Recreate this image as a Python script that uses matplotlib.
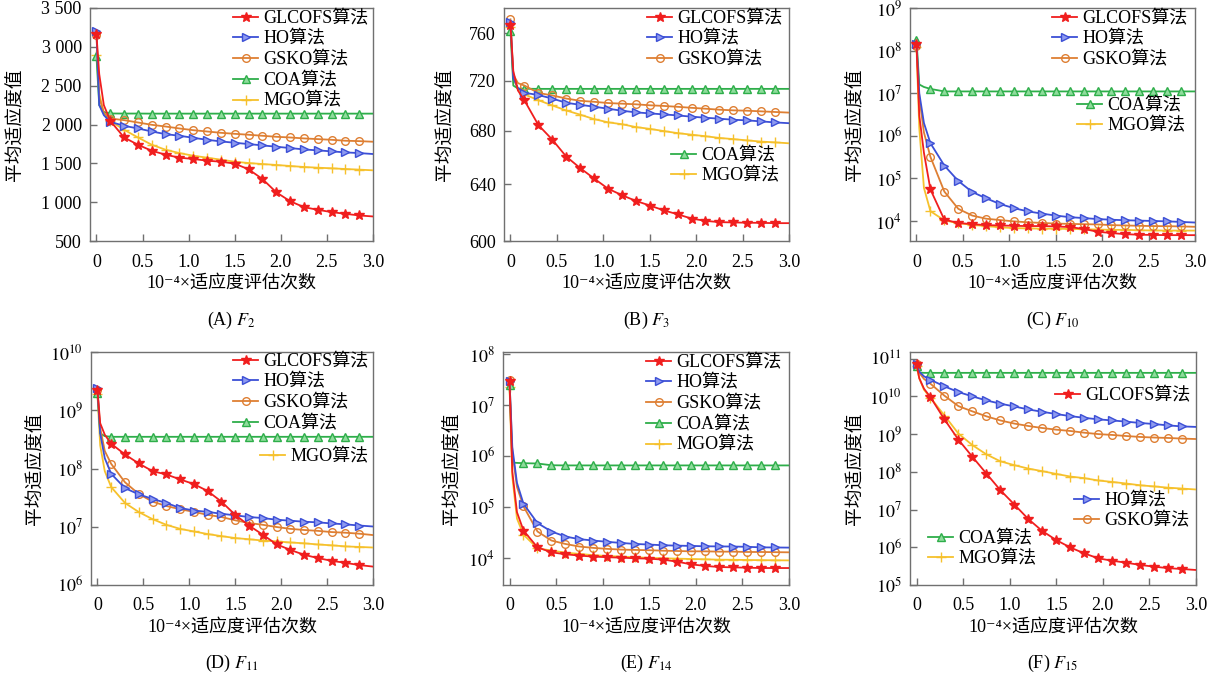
import numpy as np
import matplotlib
matplotlib.use('Agg')
import matplotlib.pyplot as plt
from matplotlib.ticker import FixedLocator, FuncFormatter, NullLocator
from matplotlib.legend import Legend

plt.rcParams['font.family'] = ['Liberation Serif', 'DejaVu Serif', 'Noto Sans CJK SC']
plt.rcParams['mathtext.fontset'] = 'stix'
plt.rcParams['font.size'] = 13

# ---------------- data ----------------
x_evals = [0, 0.03, 0.08, 0.15, 0.3, 0.45, 0.6, 0.75, 0.9, 1.05, 1.2, 1.35, 1.5,
           1.65, 1.8, 1.95, 2.1, 2.25, 2.4, 2.55, 2.7, 2.85, 3.0]
x_ticks = [0, 0.5, 1.0, 1.5, 2.0, 2.5, 3.0]
x_tick_labels = ['0', '0.5', '1.0', '1.5', '2.0', '2.5', '3.0']
algorithms = ['GLCOFS算法', 'HO算法', 'GSKO算法', 'COA算法', 'MGO算法']

# (A) F2
f2_glcofs = [3160, 2650, 2250, 2047, 1833, 1739, 1662, 1611, 1573, 1556, 1534, 1521, 1496,
             1423, 1299, 1128, 1013, 936, 902, 872, 850, 829, 816]
f2_ho = [3200, 2250, 2120, 2034, 1983, 1949, 1910, 1876, 1855, 1829, 1803, 1782, 1765,
         1748, 1731, 1714, 1697, 1679, 1667, 1654, 1641, 1632, 1620]
f2_gsko = [3150, 2350, 2150, 2077, 2056, 2026, 1996, 1974, 1949, 1927, 1910, 1893, 1880,
           1868, 1855, 1842, 1833, 1821, 1812, 1803, 1791, 1786, 1778]
f2_coa = [2880, 2250, 2160, 2142, 2141, 2141, 2140, 2140, 2140, 2140, 2140, 2140, 2140,
          2140, 2140, 2140, 2140, 2140, 2140, 2140, 2140, 2140, 2140]
f2_mgo = [2900, 2400, 2150, 2047, 1932, 1833, 1739, 1675, 1632, 1598, 1573, 1547, 1521,
          1504, 1491, 1479, 1466, 1453, 1444, 1436, 1427, 1419, 1410]

# (B) F3
f3_glcofs = [767, 728, 712, 704, 684.6, 673.3, 660.5, 651.9, 644.2, 636.8, 632.1, 628.0, 624.7,
             621.3, 618.5, 615.5, 613.9, 613.0, 612.8, 612.6, 612.5, 612.3, 612.3]
f3_ho = [770, 722, 714, 710.2, 708.3, 705.5, 702.1, 700.5, 699.0, 697.4, 695.8, 694.5, 693.7,
         692.9, 692.1, 691.1, 690.3, 689.5, 688.7, 688.2, 687.4, 686.6, 686.0]
f3_gsko = [772, 725, 718, 716, 710, 708, 705.5, 703.7, 702.9, 701.9, 701.4, 700.9, 700.1,
           699.6, 698.9, 698.1, 697.4, 696.6, 696.1, 695.8, 695.3, 694.8, 694.3]
f3_coa = [762, 716, 713.6, 713.4, 713.3, 713.3, 713.3, 713.3, 713.3, 713.3, 713.3, 713.3, 713.3,
          713.3, 713.3, 713.3, 713.3, 713.3, 713.3, 713.3, 713.3, 713.3, 713.3]
f3_mgo = [765, 722, 713, 708.8, 704.2, 700.0, 696.0, 692.7, 689.2, 686.7, 685.2, 683.0, 681.6,
          679.9, 678.3, 677.1, 675.9, 674.6, 673.7, 672.7, 671.8, 671.2, 670.5]

# (C) F10
f10_glcofs = [1.4e8, 3e6, 4e5, 5.5e4, 1.07e4, 9.0e3, 8.4e3, 8.0e3, 7.85e3, 7.7e3, 7.6e3, 7.6e3, 7.45e3,
              7.2e3, 6.5e3, 5.6e3, 5.2e3, 4.9e3, 4.75e3, 4.7e3, 4.65e3, 4.65e3, 4.65e3]
f10_ho = [1.4e8, 1e7, 2e6, 6.7e5, 2.0e5, 8.7e4, 4.8e4, 3.4e4, 2.5e4, 2.0e4, 1.68e4, 1.49e4, 1.34e4,
          1.23e4, 1.17e4, 1.11e4, 1.07e4, 1.04e4, 1.02e4, 1.0e4, 9.8e3, 9.5e3, 9.2e3]
f10_gsko = [1.3e8, 8e6, 1.2e6, 3.2e5, 4.9e4, 1.93e4, 1.34e4, 1.13e4, 1.05e4, 9.8e3, 9.3e3, 9.0e3, 8.7e3,
            8.55e3, 8.4e3, 8.3e3, 8.0e3, 7.85e3, 7.7e3, 7.6e3, 7.55e3, 7.45e3, 7.3e3]
f10_coa = [1.8e8, 1.6e7, 1.4e7, 1.26e7, 1.1e7, 1.1e7, 1.1e7, 1.1e7, 1.1e7, 1.1e7, 1.1e7, 1.1e7, 1.1e7,
           1.1e7, 1.1e7, 1.1e7, 1.1e7, 1.1e7, 1.1e7, 1.1e7, 1.1e7, 1.1e7, 1.1e7]
f10_mgo = [1.2e8, 1.5e6, 6e4, 1.7e4, 1.03e4, 8.9e3, 8.1e3, 7.6e3, 7.1e3, 6.8e3, 6.7e3, 6.6e3, 6.6e3,
           6.5e3, 6.4e3, 6.3e3, 6.2e3, 6.2e3, 6.05e3, 6.0e3, 5.95e3, 5.95e3, 5.95e3]

# (D) F11
f11_glcofs = [2.2e9, 6e8, 3.8e8, 2.66e8, 1.74e8, 1.22e8, 9.0e7, 7.9e7, 6.5e7, 5.4e7, 4.1e7, 2.7e7, 1.6e7,
              1.05e7, 7.3e6, 5.0e6, 4.0e6, 3.3e6, 2.9e6, 2.6e6, 2.4e6, 2.2e6, 2.07e6]
f11_ho = [2.4e9, 4e8, 1.5e8, 8.1e7, 4.6e7, 3.6e7, 3.0e7, 2.56e7, 2.1e7, 1.9e7, 1.8e7, 1.67e7, 1.57e7,
          1.47e7, 1.41e7, 1.32e7, 1.27e7, 1.22e7, 1.19e7, 1.14e7, 1.1e7, 1.05e7, 1.01e7]
f11_gsko = [2.2e9, 5e8, 2e8, 1.2e8, 5.8e7, 3.65e7, 2.7e7, 2.27e7, 2.0e7, 1.8e7, 1.6e7, 1.47e7, 1.29e7,
            1.16e7, 1.08e7, 9.9e6, 9.2e6, 8.8e6, 8.5e6, 8.1e6, 7.9e6, 7.6e6, 7.2e6]
f11_coa = [2.0e9, 4e8, 3.6e8, 3.5e8, 3.5e8, 3.5e8, 3.5e8, 3.5e8, 3.5e8, 3.5e8, 3.5e8, 3.5e8, 3.5e8,
           3.5e8, 3.5e8, 3.5e8, 3.5e8, 3.5e8, 3.5e8, 3.5e8, 3.5e8, 3.5e8, 3.5e8]
f11_mgo = [1.9e9, 2.5e8, 9e7, 4.8e7, 2.56e7, 1.79e7, 1.35e7, 1.08e7, 9.2e6, 8.3e6, 7.5e6, 6.9e6, 6.4e6,
           6.1e6, 5.8e6, 5.6e6, 5.37e6, 5.2e6, 4.96e6, 4.8e6, 4.6e6, 4.5e6, 4.4e6]

# (E) F14
f14_glcofs = [3e7, 5e5, 8e4, 3.5e4, 1.64e4, 1.31e4, 1.2e4, 1.13e4, 1.08e4, 1.05e4, 1.03e4, 1.0e4, 9.85e3,
              9.4e3, 8.6e3, 7.6e3, 7.1e3, 6.75e3, 6.65e3, 6.55e3, 6.45e3, 6.45e3, 6.45e3]
f14_ho = [3e7, 1.5e6, 3e5, 1.17e5, 4.9e4, 3.35e4, 2.67e4, 2.37e4, 2.23e4, 2.1e4, 2.0e4, 1.91e4, 1.86e4,
          1.8e4, 1.77e4, 1.75e4, 1.72e4, 1.71e4, 1.7e4, 1.68e4, 1.64e4, 1.63e4, 1.62e4]
f14_gsko = [3.1e7, 1.2e6, 2.5e5, 1.04e5, 3.35e4, 2.23e4, 1.91e4, 1.7e4, 1.6e4, 1.53e4, 1.48e4, 1.46e4, 1.44e4,
            1.41e4, 1.39e4, 1.37e4, 1.37e4, 1.35e4, 1.35e4, 1.33e4, 1.33e4, 1.32e4, 1.31e4]
f14_coa = [2.5e7, 7.5e5, 7.4e5, 7.3e5, 7.2e5, 6.65e5, 6.6e5, 6.6e5, 6.6e5, 6.6e5, 6.6e5, 6.6e5, 6.6e5,
           6.6e5, 6.6e5, 6.6e5, 6.6e5, 6.6e5, 6.6e5, 6.6e5, 6.6e5, 6.6e5, 6.6e5]
f14_mgo = [2.3e7, 4e5, 6e4, 2.9e4, 1.57e4, 1.42e4, 1.29e4, 1.22e4, 1.15e4, 1.11e4, 1.08e4, 1.05e4, 1.02e4,
           1.0e4, 9.85e3, 9.7e3, 9.56e3, 9.4e3, 9.35e3, 9.27e3, 9.2e3, 9.15e3, 9.1e3]

# (F) F15
f15_glcofs = [7e10, 3e10, 1.6e10, 9.5e9, 2.45e9, 7.1e8, 2.5e8, 9.0e7, 3.26e7, 1.36e7, 5.6e6, 2.7e6, 1.55e6,
              9.9e5, 6.9e5, 5.1e5, 4.4e5, 3.9e5, 3.4e5, 3.06e5, 2.8e5, 2.65e5, 2.5e5]
f15_ho = [7e10, 4.5e10, 3.4e10, 2.75e10, 1.84e10, 1.3e10, 1.0e10, 7.8e9, 6.4e9, 5.4e9, 4.5e9, 3.9e9, 3.4e9,
          3.0e9, 2.7e9, 2.46e9, 2.3e9, 2.14e9, 1.97e9, 1.85e9, 1.7e9, 1.6e9, 1.55e9]
f15_gsko = [7e10, 4.2e10, 2.9e10, 2.16e10, 1.04e10, 5.5e9, 4.0e9, 2.96e9, 2.3e9, 1.9e9, 1.64e9, 1.45e9, 1.31e9,
            1.21e9, 1.09e9, 1.0e9, 9.5e8, 8.9e8, 8.4e8, 8.1e8, 7.9e8, 7.6e8, 7.4e8]
f15_coa = [6.5e10, 4.3e10, 4.2e10, 4.2e10, 4.2e10, 4.2e10, 4.2e10, 4.2e10, 4.2e10, 4.2e10, 4.2e10, 4.2e10, 4.2e10,
           4.2e10, 4.2e10, 4.2e10, 4.2e10, 4.2e10, 4.2e10, 4.2e10, 4.2e10, 4.2e10, 4.2e10]
f15_mgo = [6.5e10, 3e10, 1.5e10, 9.2e9, 3.1e9, 1.03e9, 5.1e8, 2.9e8, 1.9e8, 1.5e8, 1.22e8, 1.04e8, 8.8e7,
           7.5e7, 6.8e7, 5.9e7, 5.4e7, 4.9e7, 4.4e7, 4.1e7, 3.8e7, 3.6e7, 3.4e7]

captions = ['(A) $F_{2}$', '(B) $F_{3}$', '(C) $F_{10}$', '(D) $F_{11}$', '(E) $F_{14}$', '(F) $F_{15}$']

# ---------------- styles ----------------
styles = [
    dict(color='#f01e1e', marker='*', mfc='#f01e1e', mec='#f01e1e', ms=7.5),
    dict(color='#3c4fd6', marker='>', mfc='#8e9af0', mec='#3c4fd6', ms=6),
    dict(color='#de7f33', marker='o', mfc='none', mec='#de7f33', ms=5.5),
    dict(color='#2eae4a', marker='^', mfc='#8fdc9c', mec='#2eae4a', ms=6),
    dict(color='#f6c12c', marker='+', mfc='#f6c12c', mec='#f6c12c', ms=7),
]
mark_idx = [0] + list(range(3, 22))

W, H = 1214, 678
fig = plt.figure(figsize=(W / 100, H / 100), dpi=100)

def fig_rect(l, r, t, b):
    return [l / W, 1 - b / H, (r - l) / W, (b - t) / H]

panels = [
    dict(rect=fig_rect(90, 373, 8, 241), data=[f2_glcofs, f2_ho, f2_gsko, f2_coa, f2_mgo],
         scale='linear', ylim=(500, 3500), yticks=[500, 1000, 1500, 2000, 2500, 3000, 3500],
         ylab_x=15, groups=[([0, 1, 2, 3, 4], 233, 20)]),
    dict(rect=fig_rect(504, 789, 8, 241), data=[f3_glcofs, f3_ho, f3_gsko, f3_coa, f3_mgo],
         scale='log_plain', ylim=(600, 782), yticks=[600, 640, 680, 720, 760],
         ylab_x=445, groups=[([0, 1, 2], 647, 20), ([3, 4], 671, 157)]),
    dict(rect=fig_rect(910, 1195, 8, 241), data=[f10_glcofs, f10_ho, f10_gsko, f10_coa, f10_mgo],
         scale='log', ylim=(10 ** 3.53, 1e9), yticks=[1e4, 1e5, 1e6, 1e7, 1e8, 1e9],
         ylab_x=855, groups=[([0, 1, 2], 1052, 20), ([3, 4], 1077, 107)]),
    dict(rect=fig_rect(91, 373, 352, 585), data=[f11_glcofs, f11_ho, f11_gsko, f11_coa, f11_mgo],
         scale='log', ylim=(1e6, 1e10), yticks=[1e6, 1e7, 1e8, 1e9, 1e10],
         ylab_x=35, groups=[([0, 1, 2, 3], 233, 363), ([4], 260, 458)]),
    dict(rect=fig_rect(503, 789, 352, 585), data=[f14_glcofs, f14_ho, f14_gsko, f14_coa, f14_mgo],
         scale='log', ylim=(3e3, 1.1e8), yticks=[1e4, 1e5, 1e6, 1e7, 1e8],
         ylab_x=452, groups=[([0, 1, 2, 3, 4], 646, 364)]),
    dict(rect=fig_rect(910, 1196, 352, 585), data=[f15_glcofs, f15_ho, f15_gsko, f15_coa, f15_mgo],
         scale='log', ylim=(1e5, 1.5e11), yticks=[1e5, 1e6, 1e7, 1e8, 1e9, 1e10, 1e11],
         ylab_x=855, groups=[([0], 1055, 397), ([1, 2], 1074, 502), ([3, 4], 928, 540)]),
]

frame_col = '#707070'
for k, p in enumerate(panels):
    ax = fig.add_axes(p['rect'])
    handles = []
    for s, (series, st) in enumerate(zip(p['data'], styles)):
        ln, = ax.plot(x_evals, series, color=st['color'], lw=1.3, marker=st['marker'],
                      mfc=st['mfc'], mec=st['mec'], ms=st['ms'], mew=1.0,
                      markevery=mark_idx, label=algorithms[s], zorder=3 + (4 - s) * 0.1)
        handles.append(ln)
    ax.set_xlim(-0.07, 3.0)
    ax.set_xticks(x_ticks)
    ax.set_xticklabels(x_tick_labels)
    if p['scale'] == 'linear':
        ax.set_ylim(*p['ylim'])
        ax.yaxis.set_major_locator(FixedLocator(p['yticks']))
        ax.yaxis.set_major_formatter(FuncFormatter(lambda v, pos: f"{int(v):,}".replace(',', ' ')))
    elif p['scale'] == 'log_plain':
        ax.set_yscale('log')
        ax.set_ylim(*p['ylim'])
        ax.yaxis.set_major_locator(FixedLocator(p['yticks']))
        ax.yaxis.set_minor_locator(NullLocator())
        ax.yaxis.set_major_formatter(FuncFormatter(lambda v, pos: f"{int(round(v))}"))
    else:
        ax.set_yscale('log')
        ax.set_ylim(*p['ylim'])
        ax.yaxis.set_major_locator(FixedLocator(p['yticks']))
        ax.yaxis.set_minor_locator(NullLocator())
        ax.yaxis.set_major_formatter(FuncFormatter(
            lambda v, pos: f"$10^{{{int(round(np.log10(v)))}}}$"))
    for sp in ax.spines.values():
        sp.set_color(frame_col)
        sp.set_linewidth(1.0)
    ax.tick_params(axis='both', direction='in', length=5, width=1, color=frame_col,
                   labelsize=13, top=False, right=False)
    ax.tick_params(axis='x', pad=9)
    ax.tick_params(axis='y', pad=6)

    for idxs, lx, ly in p['groups']:
        leg = Legend(ax, [handles[i] for i in idxs], [algorithms[i] for i in idxs],
                     loc='upper left', bbox_to_anchor=(lx / W, 1 - (ly - 10) / H),
                     bbox_transform=fig.transFigure, frameon=False, fontsize=13,
                     handlelength=1.4, handletextpad=0.3, labelspacing=0.2,
                     borderpad=0, borderaxespad=0, numpoints=1)
        ax.add_artist(leg)

    rect = p['rect']
    cx = rect[0] + rect[2] / 2
    cy = rect[1] + rect[3] / 2
    fig.text(p['ylab_x'] / W, cy, '平均适应度值', rotation=90, ha='center', va='center',
             fontsize=13.5, family=['Noto Sans CJK SC'])
    xl_y = 283 if k < 3 else 627
    cap_y = 320 if k < 3 else 663
    fig.text(cx, 1 - xl_y / H, '10⁻⁴×适应度评估次数', ha='center', va='center', fontsize=13)
    fig.text(cx, 1 - cap_y / H, captions[k], ha='center', va='center', fontsize=13)

fig.savefig('out.png', dpi=100)
